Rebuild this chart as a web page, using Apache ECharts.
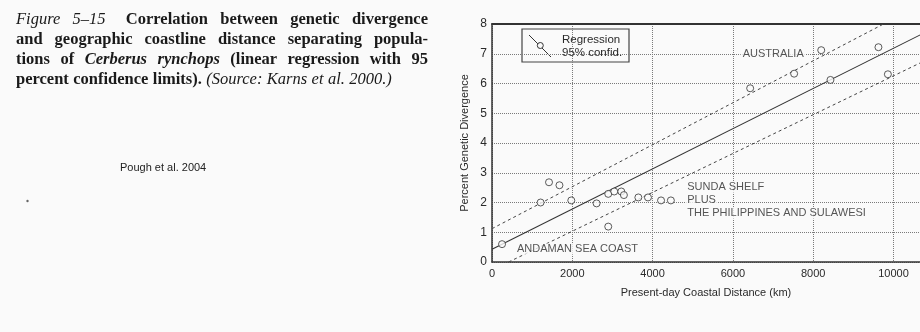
<!DOCTYPE html>
<html>
<head>
<meta charset="utf-8">
<script src="https://cdn.jsdelivr.net/npm/echarts@6/dist/echarts.min.js"></script>
<style>
  html, body { margin: 0; padding: 0; background: #fafafa; }
  #chart { width: 920px; height: 332px; }
</style>
</head>
<body>
<div id="chart"></div>
<script>
// coastal distance (km) and genetic divergence (%) for each population pair
var distanceKm = [250, 1210, 1420, 1680, 1975, 2605, 2895, 2895, 3045, 3220, 3285, 3645, 3885, 4210, 4455, 6430, 7525, 8200, 8430, 9625, 9860];
var divergencePct = [0.60, 2.00, 2.68, 2.58, 2.07, 1.97, 2.29, 1.19, 2.37, 2.37, 2.25, 2.17, 2.17, 2.07, 2.07, 5.84, 6.33, 7.12, 6.12, 7.22, 6.31];

// fitted line and 95% limits, as end points [km, %]
var regressionLine = [[0, 0.43], [11000, 7.86]];
var upperLimit = [[0, 1.12], [11000, 8.88]];
var lowerLimit = [[414, 0], [11000, 6.91]];

var xTicks = [0, 2000, 4000, 6000, 8000, 10000];
var yTicks = [0, 1, 2, 3, 4, 5, 6, 7, 8];

var regionNames = ['AUSTRALIA', 'SUNDA SHELF', 'PLUS', 'THE PHILIPPINES AND SULAWESI', 'ANDAMAN SEA COAST'];
var regionAnchors = [[6180, 6.98], [4800, 2.51], [4800, 2.08], [4800, 1.64], [560, 0.44]];

var INK = '#2a2a2a';
var X_MAX = 10660; // plot runs off the right edge of the scan
var chart = echarts.init(document.getElementById('chart'));

// caption lines, justified like the printed book
var serifFont = '"Liberation Serif", "Times New Roman", serif';
var capSize = 16.5;
var caption = [
    [['italic', 'Figure'], ['italic', '5\u201315'], ['gap', ''], ['bold', 'Correlation'], ['bold', 'between'], ['bold', 'genetic'], ['bold', 'divergence']],
    [['bold', 'and'], ['bold', 'geographic'], ['bold', 'coastline'], ['bold', 'distance'], ['bold', 'separating'], ['bold', 'popula-']],
    [['bold', 'tions'], ['bold', 'of'], ['bolditalic', 'Cerberus'], ['bolditalic', 'rynchops'], ['bold', '(linear'], ['bold', 'regression'], ['bold', 'with'], ['bold', '95']],
    [['bold', 'percent'], ['bold', 'confidence'], ['bold', 'limits).'], ['italic', '(Source:'], ['italic', 'Karns'], ['italic', 'et'], ['italic', 'al.'], ['italic', '2000.)']]
];

function fontFor(kind) {
    var s = kind === 'bold' ? 'normal bold' : kind === 'italic' ? 'italic normal' : 'italic bold';
    return s + ' ' + capSize + 'px ' + serifFont;
}

var measureCtx = document.createElement('canvas').getContext('2d');
function captionGraphics() {
    var out = [];
    var x0 = 16, x1 = 428;
    caption.forEach(function (line, i) {
        var y = 20 + i * 19.8;
        var words = line.filter(function (w) { return w[0] !== 'gap'; });
        var widths = words.map(function (w) {
            measureCtx.font = fontFor(w[0]);
            return measureCtx.measureText(w[1]).width;
        });
        var total = widths.reduce(function (a, b) { return a + b; }, 0);
        var gaps = words.length - 1;
        var hasGap = line.some(function (w) { return w[0] === 'gap'; });
        var space = 4.4;
        if (i < caption.length - 1) {
            space = (x1 - x0 - total - (hasGap ? 8 : 0)) / gaps;
        }
        var x = x0;
        line.forEach(function (w) {
            if (w[0] === 'gap') { x += 8; return; }
            var k = words.indexOf(w);
            out.push({
                type: 'text', x: x, y: y, z: 100,
                style: { text: w[1], font: fontFor(w[0]), fill: '#1a1a1a', verticalAlign: 'middle' }
            });
            x += widths[k] + space;
        });
    });
    return out;
}

// legend box drawn on top of the plot
var legendBox = {
    type: 'group', x: 522, y: 29, z: 100,
    children: [
        { type: 'rect', shape: { x: 0, y: 0, width: 107, height: 33 }, style: { fill: '#fafafa', stroke: '#444', lineWidth: 1.2 } },
        { type: 'line', shape: { x1: 7, y1: 6, x2: 29, y2: 28 }, style: { stroke: '#333', lineWidth: 1 } },
        { type: 'circle', shape: { cx: 18.3, cy: 16.5, r: 3 }, style: { fill: '#fafafa', stroke: '#333', lineWidth: 1 } },
        { type: 'text', x: 40, y: 11, style: { text: 'Regression', font: '11.5px "Liberation Sans", Arial, sans-serif', fill: INK, verticalAlign: 'middle' } },
        { type: 'text', x: 40, y: 24, style: { text: '95% confid.', font: '11.5px "Liberation Sans", Arial, sans-serif', fill: INK, verticalAlign: 'middle' } }
    ]
};

var gridLine = { lineStyle: { color: '#7a7a7a', type: 'dotted', width: 1 } };

var option = {
    backgroundColor: '#fafafa',
    animation: false,
    textStyle: { fontFamily: '"Liberation Sans", Arial, sans-serif' },
    grid: { left: 492, top: 24, right: 0, bottom: 70 },
    xAxis: [{
        type: 'value', min: 0, max: X_MAX, interval: 2000,
        name: 'Present-day Coastal Distance (km)',
        nameLocation: 'middle', nameGap: 25,
        nameTextStyle: { fontSize: 11, color: INK },
        axisLine: { lineStyle: { color: '#333', width: 1.5 } },
        axisTick: { show: false },
        axisLabel: {
            fontSize: 11, color: INK, margin: 6, showMaxLabel: false,
            formatter: function (v) { return xTicks.indexOf(v) >= 0 ? String(v) : ''; }
        },
        splitLine: gridLine
    }, {
        // top frame of the plot
        type: 'value', position: 'top', min: 0, max: X_MAX,
        axisLine: { show: true, onZero: false, lineStyle: { color: '#333', width: 1.8 } },
        axisTick: { show: false }, axisLabel: { show: false }, splitLine: { show: false }
    }],
    yAxis: {
        type: 'value', min: 0, max: 8, interval: 1,
        name: 'Percent Genetic Divergence',
        nameLocation: 'middle', nameGap: 22,
        nameTextStyle: { fontSize: 11, color: INK },
        axisLine: { show: true, lineStyle: { color: '#333', width: 1.5 } },
        axisTick: { show: false },
        axisLabel: {
            fontSize: 12, color: INK, margin: 5,
            formatter: function (v) { return yTicks.indexOf(v) >= 0 ? String(v) : ''; }
        },
        splitLine: gridLine
    },
    graphic: captionGraphics().concat([
        { type: 'text', x: 120, y: 168, z: 100, style: { text: 'Pough et al. 2004', font: '11px "Liberation Sans", Arial, sans-serif', fill: '#222', verticalAlign: 'middle' } },
        { type: 'circle', shape: { cx: 27.5, cy: 201, r: 1.2 }, z: 100, style: { fill: '#666' } },
        legendBox
    ]),
    series: [
        {
            name: 'Regression', type: 'line', data: regressionLine, symbol: 'none',
            lineStyle: { color: '#333', width: 1.1 }, z: 3
        },
        {
            name: 'upper', type: 'line', data: upperLimit, symbol: 'none',
            lineStyle: { color: '#444', width: 1, type: [3, 3] }, z: 3
        },
        {
            name: 'lower', type: 'line', data: lowerLimit, symbol: 'none',
            lineStyle: { color: '#444', width: 1, type: [3, 3] }, z: 3
        },
        {
            name: 'populations', type: 'scatter', symbol: 'circle', symbolSize: 7,
            data: distanceKm.map(function (d, i) { return [d, divergencePct[i]]; }),
            itemStyle: { color: '#fafafa', borderColor: '#333', borderWidth: 1 }, z: 5
        },
        {
            name: 'regions', type: 'scatter', symbolSize: 1, silent: true,
            data: regionAnchors.map(function (p, i) { return { value: p, name: regionNames[i] }; }),
            itemStyle: { color: 'transparent' }, z: 6,
            label: {
                show: true, position: 'right', distance: 0,
                formatter: '{b}', fontSize: 11, color: INK,
                backgroundColor: '#fafafa', padding: [0, 2]
            }
        }
    ]
};

chart.setOption(option);
</script>
</body>
</html>
